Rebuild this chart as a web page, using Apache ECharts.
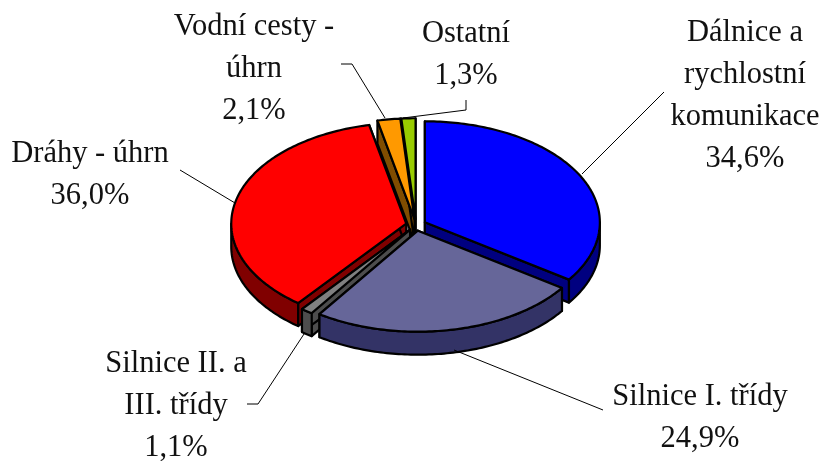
<!DOCTYPE html>
<html>
<head>
<meta charset="utf-8">
<style>
  html, body { margin: 0; padding: 0; background: #fff; }
  #main { width: 822px; height: 461px; }
</style>
<script src="https://cdn.jsdelivr.net/npm/echarts@6/dist/echarts.min.js"></script>
</head>
<body>
<div id="main"></div>
<script>
// data, clockwise from 12 o'clock
var categories = ['Dálnice a\nrychlostní\nkomunikace', 'Silnice I. třídy', 'Silnice II. a\nIII. třídy', 'Dráhy - úhrn', 'Vodní cesty -\núhrn', 'Ostatní'];
var shares = [34.6, 24.9, 1.1, 36.0, 2.1, 1.3];

// styling
var topColors = ['#0000ff', '#666699', '#808080', '#ff0000', '#ff9900', '#99cc00'];
var wallColors = ['#000080', '#333366', '#4d4d4d', '#800000', '#804d00', '#4d6600'];
var drawOrder = [5, 4, 0, 3, 2, 1]; // back to front

// label centre + leader line for each category
var labelPos = [[745, 96], [700, 418], [176, 406], [90, 175], [254, 69], [466, 55]];
var leaders = [
  [[582, 174], [664, 92]],
  [[454, 350], [603, 410]],
  [[304, 334], [258, 404], [247, 404]],
  [[235, 203], [180, 170]],
  [[385, 118], [352, 64], [341, 64]],
  [[403, 118], [466, 110], [466, 100]]
];

var cx = 416, cy = 225, rx = 175, ry = 101, depth = 23, explode = 10;

var total = shares.reduce(function (a, b) { return a + b; }, 0);
var startAngles = [];
shares.reduce(function (sum, v, i) { startAngles[i] = sum / total * 360; return sum + v; }, 0);

function point(ox, oy, deg, r) {
  var a = deg * Math.PI / 180;
  return [ox + rx * r * Math.sin(a), oy - ry * r * Math.cos(a)];
}
function down(p) { return [p[0], p[1] + depth]; }
function arc(ox, oy, from, to) {
  var pts = [];
  var n = Math.max(2, Math.ceil(to - from));
  for (var k = 0; k <= n; k++) pts.push(point(ox, oy, from + (to - from) * k / n, 1));
  return pts;
}
function face(points, fill) {
  return {
    type: 'polygon',
    shape: { points: points },
    style: { fill: fill, stroke: '#000', lineWidth: 2.2, lineJoin: 'round' }
  };
}

function renderSlice(params, api) {
  var i = api.value(0);
  var a0 = startAngles[i];
  var a1 = a0 + api.value(1) / total * 360;
  var mid = (a0 + a1) / 2;
  var o = point(cx, cy, mid, explode / rx);
  // keep explosion in the same flattened projection
  var ox = o[0], oy = o[1];
  var apex = [ox, oy];
  var p0 = point(ox, oy, a0, 1), p1 = point(ox, oy, a1, 1);
  var children = [];
  // radial walls
  children.push(face([apex, p0, down(p0), down(apex)], wallColors[i]));
  children.push(face([apex, p1, down(p1), down(apex)], wallColors[i]));
  // outer wall, only the front half is seen
  var from = Math.max(a0, 90), to = Math.min(a1, 270);
  if (to > from) {
    var rim = arc(ox, oy, from, to);
    children.push(face(rim.concat(rim.map(down).reverse()), wallColors[i]));
  }
  // top
  children.push(face([apex].concat(arc(ox, oy, a0, a1)), topColors[i]));
  return { type: 'group', children: children };
}

function renderLabel(params, api) {
  var i = api.value(0);
  var pct = shares[i].toFixed(1).replace('.', ',') + '%';
  return {
    type: 'group',
    children: [
      {
        type: 'polyline',
        shape: { points: leaders[i] },
        style: { fill: null, stroke: '#000', lineWidth: 1 }
      },
      {
        type: 'text',
        x: labelPos[i][0],
        y: labelPos[i][1],
        style: {
          text: categories[i] + '\n' + pct,
          fill: '#111',
          font: '30.5px "Liberation Serif"',
          lineHeight: 42,
          align: 'center',
          verticalAlign: 'middle'
        }
      }
    ]
  };
}

var chart = echarts.init(document.getElementById('main'));
chart.setOption({
  animation: false,
  backgroundColor: '#fff',
  series: [
    {
      type: 'custom',
      coordinateSystem: 'none',
      silent: true,
      z: 3,
      renderItem: renderLabel,
      data: shares.map(function (v, i) { return [i, v]; })
    },
    {
      type: 'custom',
      coordinateSystem: 'none',
      silent: true,
      z: 2,
      renderItem: renderSlice,
      data: drawOrder.map(function (i) { return [i, shares[i]]; })
    }
  ]
});
</script>
</body>
</html>
